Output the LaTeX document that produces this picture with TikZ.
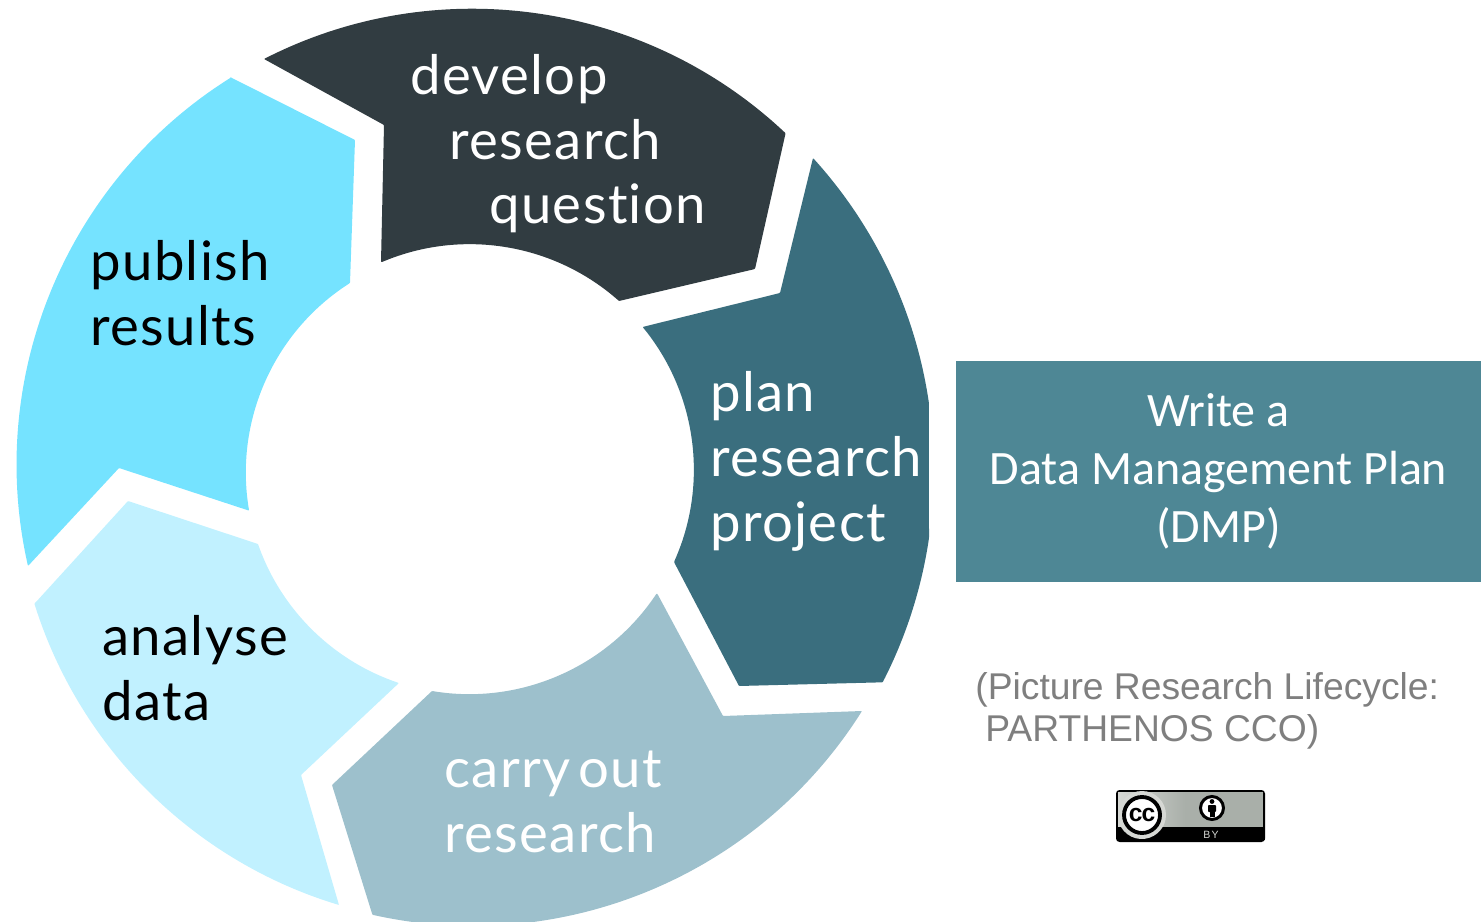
\documentclass[tikz,border=0pt]{standalone}
\usepackage{fontspec}
\setmainfont{Lato}[LetterSpace=2.5,Ligatures=NoCommon]
\newfontfamily\boxfont{Carlito}
\newfontfamily\notefont{Liberation Sans}
\definecolor{devcol}{HTML}{313C41}
\definecolor{plancol}{HTML}{3A6E7E}
\definecolor{carrycol}{HTML}{9DC0CC}
\definecolor{analysecol}{HTML}{C1F1FF}
\definecolor{publishcol}{HTML}{75E3FF}
\definecolor{dmpcol}{HTML}{4E8795}
\definecolor{notecol}{HTML}{7F7F7F}
\definecolor{badgecol}{HTML}{A9AFA9}
\definecolor{haloecol}{HTML}{D6D8D4}
\tikzset{
	blade/.style={rounded corners=0.4pt},
	steplabel/.style={anchor=base west, inner sep=0pt, align=left, font=\fontsize{31}{36.9}\selectfont},
	dmpbox/.style={fill=dmpcol, text=white, minimum width=10.5cm, minimum height=4.44cm, inner sep=0pt, align=center, font=\boxfont\fontsize{27.3}{33}\selectfont},
	notelabel/.style={anchor=base west, inner sep=0pt, align=left, text=notecol, font=\notefont\fontsize{21.2}{23.8}\selectfont}
}
\begin{document}
\begin{tikzpicture}[x=0.02cm, y=-0.02cm]
	\useasboundingbox (0,0) rectangle (1484,922);

	% Develop
	\fill[blade, devcol] (264,59) arc[start angle=242.9, end angle=313.3, radius=457] -- (755,269) -- (619,301) arc[start angle=311.6, end angle=247.1, radius=225] -- (381,262) -- (384,125) -- cycle;
	\node[steplabel, text=white] (develop) at (410,224) {develop\\\hspace{0.78cm}research\\\hspace{1.58cm}question};

	% Plan
	\fill[blade, plancol] (813,158) arc[start angle=317.7, end angle=351.6, radius=464] -- (929,538) arc[start angle=8.4, end angle=27.2, radius=464] -- (739,686) -- (674,562) arc[start angle=24.2, end angle=-39.4, radius=225] -- (780,293) -- cycle;
	\node[steplabel, text=white] (plan) at (710,541) {plan\\research\\project};

	% Carry out
	\fill[blade, carrycol] (658,595) -- (723,716) -- (862,711) arc[start angle=32.2, end angle=102.6, radius=460] -- (332,785) -- (432,691) arc[start angle=99.5, end angle=33.5, radius=225] -- cycle;
	\node[steplabel, text=white] (carry) at (444,852) {carry\hspace{-0.15cm} out\\research};

	% Analyse
	\fill[blade, analysecol] (36,602) -- (128,501) -- (258,544) arc[start angle=160.7, end angle=108.5, radius=225] -- (301,775) -- (339,905) arc[start angle=106.8, end angle=162.6, radius=458] -- cycle;
	\node[steplabel, text=black] (analyse) at (102,720) {analyse\\data};

	% Publish
	\fill[blade, publishcol] (230,77) -- (355,140) -- (350,283) arc[start angle=237.5, end angle=170.3, radius=225] -- (119,468) -- (28,566) arc[start angle=167.2, end angle=238.05, radius=457] -- cycle;
	\node[steplabel, text=black] (publish) at (90,345) {publish\\results};

	% DMP box
	\node[dmpbox] (dmp) at (1218.5,471.5) {Write a\\Data Management Plan\\(DMP)};

	% Source note
	\node[notelabel] (note) at (975,741) {(Picture Research Lifecycle:\\\hspace{0.2cm}PARTHENOS CCO)};

	% CC badge
	\fill[black, rounded corners=2pt] (1116,790) rectangle (1265,842);
	\fill[left color=haloecol, right color=badgecol] (1118,792) rectangle (1185,827);
	\fill[badgecol] (1185,792) rectangle (1263,827);
	\fill[haloecol] (1142,815) circle (24);
	\fill[black] (1118,827) rectangle (1265,840);
	\fill[haloecol] (1142,815) ++(-21,12) arc[start angle=150, end angle=30, radius=24] -- cycle;
	\node[circle, draw=black, fill=white, line width=2.2pt, minimum size=0.72cm, inner sep=0pt, font=\notefont\bfseries\fontsize{14}{14}\selectfont] (cc) at (1142,815) {\addfontfeature{LetterSpace=-4}cc};
	\node[circle, draw=black, fill=white, line width=1.7pt, minimum size=0.46cm, inner sep=0pt] (person) at (1212,808) {};
	\fill[black] (1212,801.5) circle (2.4);
	\fill[black, rounded corners=0.5pt] (1208,805) rectangle (1216,812);
	\fill[black] (1209.5,812) rectangle (1214.5,817);
	\node[text=haloecol, inner sep=0pt, font=\notefont\fontsize{6}{6}\selectfont] (by) at (1211,834.5) {\addfontfeature{LetterSpace=12}BY};
\end{tikzpicture}
\end{document}
